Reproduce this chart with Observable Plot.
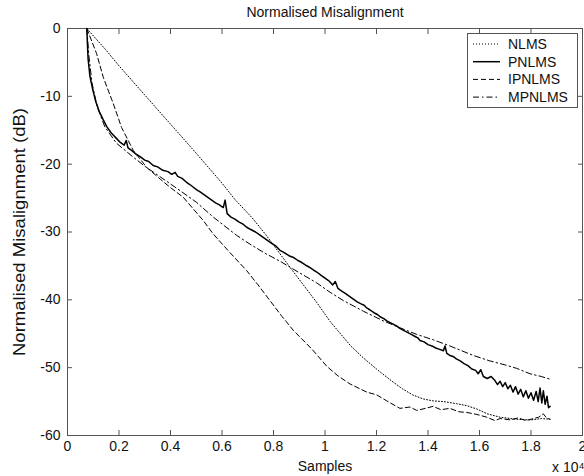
<!DOCTYPE html>
<html>
<head>
<meta charset="utf-8">
<script src="https://cdn.jsdelivr.net/npm/d3@7"></script>
<script src="https://cdn.jsdelivr.net/npm/@observablehq/plot@0.6"></script>
<style>
  html, body { margin: 0; padding: 0; background: #fff; }
  #chart { width: 584px; height: 476px; }
</style>
</head>
<body>
<div id="chart"></div>
<script>
// ---- data (x in units of 10^4 samples, y in dB) ----
const title = "Normalised Misalignment";
const xLabel = "Samples";
const xExponent = "x 10\u2074";
const yLabel = "Normalised Misalignment (dB)";
const seriesNames = ["NLMS", "PNLMS", "IPNLMS", "MPNLMS"];
const xTicks = [0, 0.2, 0.4, 0.6, 0.8, 1, 1.2, 1.4, 1.6, 1.8, 2];
const xTickLabels = ["0", "0.2", "0.4", "0.6", "0.8", "1", "1.2", "1.4", "1.6", "1.8", "2"];
const yTicks = [0, -10, -20, -30, -40, -50, -60];
const yTickLabels = ["0", "-10", "-20", "-30", "-40", "-50", "-60"];

const nlms = [
  [0.075, 0], [0.15, -3.2], [0.2, -5.5], [0.3, -9.8], [0.4, -14.1], [0.449, -16.2],
  [0.5, -18.4], [0.6, -22.8], [0.65, -25.2], [0.717, -27.9], [0.77, -30.4], [0.825, -33.2],
  [0.87, -35.5], [0.92, -38.0], [0.97, -40.5], [1.02, -43.2], [1.06, -45.0], [1.1, -46.8],
  [1.15, -48.6], [1.2, -50.2], [1.26, -52.0], [1.3, -53.1], [1.34, -54.0], [1.38, -54.6],
  [1.42, -54.9], [1.46, -55.0], [1.51, -55.3], [1.55, -55.6], [1.59, -56.1], [1.63, -56.8],
  [1.68, -57.3], [1.74, -57.6], [1.8, -57.7], [1.84, -57.5], [1.874, -57.6]
];

const pnlms = [
  [0.075, 0], [0.077, -2], [0.08, -4.5], [0.087, -7], [0.098, -9], [0.11, -10.8],
  [0.123, -12.2], [0.138, -13.4], [0.153, -14.5], [0.17, -15.4], [0.19, -16.2],
  [0.205, -16.8], [0.22, -17.2], [0.228, -16.5], [0.235, -17.6], [0.25, -18.0],
  [0.265, -18.5], [0.282, -18.9], [0.3, -19.4], [0.315, -19.6], [0.333, -20.2],
  [0.35, -20.4], [0.37, -20.9], [0.39, -21.1], [0.405, -21.5], [0.418, -21.2],
  [0.428, -21.8], [0.445, -22.1], [0.46, -22.6], [0.475, -23.0], [0.489, -23.4],
  [0.502, -23.8], [0.515, -24.1], [0.53, -24.5], [0.545, -24.9], [0.56, -25.3],
  [0.575, -25.7], [0.59, -26.0], [0.605, -26.4], [0.612, -25.3], [0.62, -27.3],
  [0.635, -27.8], [0.65, -28.1], [0.665, -28.5], [0.68, -28.8], [0.696, -29.3],
  [0.71, -29.6], [0.73, -30.0], [0.745, -30.4], [0.76, -30.8], [0.775, -31.2],
  [0.79, -31.6], [0.81, -32.1], [0.825, -32.7], [0.84, -33.0], [0.86, -33.5],
  [0.88, -33.8], [0.895, -34.2], [0.91, -34.5], [0.925, -34.9], [0.94, -35.2],
  [0.955, -35.6], [0.968, -35.9], [0.985, -36.4], [1.0, -36.8], [1.015, -37.2],
  [1.03, -37.8], [1.04, -37.3], [1.05, -38.3], [1.065, -38.7], [1.08, -39.1],
  [1.095, -39.5], [1.11, -39.9], [1.125, -40.3], [1.14, -40.6], [1.152, -40.8],
  [1.162, -41.2], [1.175, -41.5], [1.19, -41.9], [1.205, -42.2], [1.214, -42.5],
  [1.23, -42.8], [1.24, -43.1], [1.255, -43.4], [1.27, -43.7], [1.28, -43.9],
  [1.291, -44.2], [1.305, -44.5], [1.32, -44.8], [1.335, -45.1], [1.35, -45.4],
  [1.36, -45.6], [1.369, -46.0], [1.385, -46.2], [1.4, -46.6], [1.415, -46.8],
  [1.43, -47.1], [1.445, -47.3], [1.46, -47.5], [1.466, -46.8], [1.473, -47.9],
  [1.485, -48.2], [1.5, -48.4], [1.51, -48.7], [1.525, -49.0], [1.54, -49.4],
  [1.555, -49.7], [1.57, -50.2], [1.585, -50.4], [1.595, -50.9], [1.605, -50.3],
  [1.615, -51.3], [1.63, -51.6], [1.645, -51.3], [1.66, -51.9], [1.67, -52.5],
  [1.68, -52.0], [1.69, -52.8], [1.7, -52.2], [1.71, -53.1], [1.72, -52.6],
  [1.73, -53.6], [1.74, -52.8], [1.75, -53.9], [1.76, -53.2], [1.77, -54.3],
  [1.78, -53.4], [1.79, -54.5], [1.8, -53.7], [1.81, -54.8], [1.82, -53.5],
  [1.828, -55.0], [1.835, -53.0], [1.842, -55.2], [1.848, -53.4], [1.855, -55.4],
  [1.862, -54.2], [1.868, -55.9], [1.874, -55.7]
];

const ipnlms = [
  [0.075, 0], [0.113, -3.7], [0.139, -7.2], [0.178, -11.1], [0.21, -14.6],
  [0.256, -18.0], [0.308, -20.5], [0.36, -22.2], [0.398, -23.4], [0.45, -24.9],
  [0.527, -28.3], [0.566, -30.3], [0.63, -33.0], [0.696, -35.7], [0.74, -37.8],
  [0.786, -40.1], [0.83, -42.3], [0.877, -44.5], [0.95, -47.3], [1.007, -49.8],
  [1.05, -51.2], [1.097, -52.4], [1.162, -53.6], [1.2, -54.0], [1.24, -54.9],
  [1.291, -56.0], [1.33, -55.8], [1.356, -56.3], [1.39, -56.0], [1.42, -55.7],
  [1.45, -56.2], [1.485, -56.0], [1.52, -56.5], [1.55, -56.6], [1.59, -56.9],
  [1.628, -57.3], [1.66, -57.8], [1.68, -57.5], [1.72, -57.7], [1.75, -57.4],
  [1.78, -57.8], [1.81, -57.5], [1.83, -57.3], [1.848, -56.8], [1.86, -57.4], [1.874, -57.6]
];

const mpnlms = [
  [0.075, 0], [0.083, -4], [0.095, -8], [0.115, -11.5], [0.145, -14.5], [0.19, -16.9],
  [0.25, -18.8], [0.3, -20.3], [0.35, -21.6], [0.437, -23.9], [0.5, -25.6],
  [0.566, -27.8], [0.657, -30.5], [0.709, -31.8], [0.77, -33.2], [0.825, -34.3],
  [0.9, -36.0], [0.968, -37.5], [1.02, -38.9], [1.071, -40.1], [1.15, -41.7],
  [1.226, -43.1], [1.29, -44.1], [1.356, -45.1], [1.421, -45.9], [1.485, -46.8],
  [1.576, -48.2], [1.64, -49.0], [1.7, -49.6], [1.744, -50.1], [1.796, -50.9],
  [1.84, -51.3], [1.874, -51.7]
];

const styles = [
  { data: nlms, strokeWidth: 1, dash: "1,2" },
  { data: pnlms, strokeWidth: 1.5, dash: null },
  { data: ipnlms, strokeWidth: 1, dash: "5,3" },
  { data: mpnlms, strokeWidth: 1, dash: "6,3,1.5,3" }
];

const font = "'Liberation Sans', Arial, Helvetica, sans-serif";
const frameColor = "#555";
const fs = 14;

const marks = [
  Plot.frame({ stroke: frameColor }),
  Plot.axisX({ anchor: "bottom", ticks: xTicks, tickSize: -5, tickPadding: 11,
    tickFormat: d => xTickLabels[xTicks.indexOf(d)], label: null, stroke: frameColor, fill: "#111", fontSize: fs }),
  Plot.axisX({ anchor: "top", ticks: xTicks, tickSize: -5, tickFormat: () => "", label: null, stroke: frameColor }),
  Plot.axisY({ anchor: "left", ticks: yTicks, tickSize: -5, tickPadding: 12,
    tickFormat: d => yTickLabels[yTicks.indexOf(d)], label: null, stroke: frameColor, fill: "#111", fontSize: fs }),
  Plot.axisY({ anchor: "right", ticks: yTicks, tickSize: -5, tickFormat: () => "", label: null, stroke: frameColor }),
  ...styles.map(s => Plot.line(s.data, {
    x: d => d[0], y: d => d[1], stroke: "#000", strokeWidth: s.strokeWidth,
    strokeDasharray: s.dash, strokeLinejoin: "round"
  })),
  Plot.text([title], { frameAnchor: "top", lineAnchor: "middle", dy: -16, fontSize: fs, fill: "#111" }),
  Plot.text([xLabel], { frameAnchor: "bottom", lineAnchor: "middle", dy: 31, fontSize: fs, fill: "#111" }),
  Plot.text([xExponent], { frameAnchor: "bottom-right", lineAnchor: "middle", dx: 2, dy: 32, textAnchor: "end", fontSize: fs, fill: "#111" }),
  Plot.text([yLabel], { frameAnchor: "left", dx: -48, rotate: -90, textAnchor: "middle", fontSize: 16, fill: "#111" })
];

const chart = Plot.plot({
  width: 584,
  height: 476,
  marginTop: 28,
  marginRight: 2,
  marginBottom: 41,
  marginLeft: 67,
  x: { domain: [0, 2] },
  y: { domain: [-60, 0] },
  style: { fontFamily: font, fontSize: fs + "px", background: "#fff", color: "#111", overflow: "visible" },
  marks
});
document.getElementById("chart").appendChild(chart);

// slightly widen the rotated y label, as in the reference
d3.select(chart).selectAll("text").filter(function () { return this.textContent === yLabel; })
  .attr("textLength", 248).attr("lengthAdjust", "spacingAndGlyphs");

// ---- legend (drawn on the Plot SVG) ----
const svg = d3.select(chart);
const lg = svg.append("g").attr("font-family", font).attr("font-size", fs).attr("text-anchor", "start");
lg.append("rect").attr("x", 467.5).attr("y", 33.5).attr("width", 110).attr("height", 74)
  .attr("fill", "#fff").attr("stroke", frameColor);
seriesNames.forEach((name, i) => {
  const y = 44 + i * 17.7;
  lg.append("line").attr("x1", 473).attr("x2", 500).attr("y1", y).attr("y2", y)
    .attr("stroke", "#000").attr("stroke-width", styles[i].strokeWidth)
    .attr("stroke-dasharray", styles[i].dash);
  lg.append("text").attr("x", 508).attr("y", y).attr("dy", "0.35em").attr("fill", "#111")
    .attr("text-anchor", "start").text(name);
});
</script>
</body>
</html>
